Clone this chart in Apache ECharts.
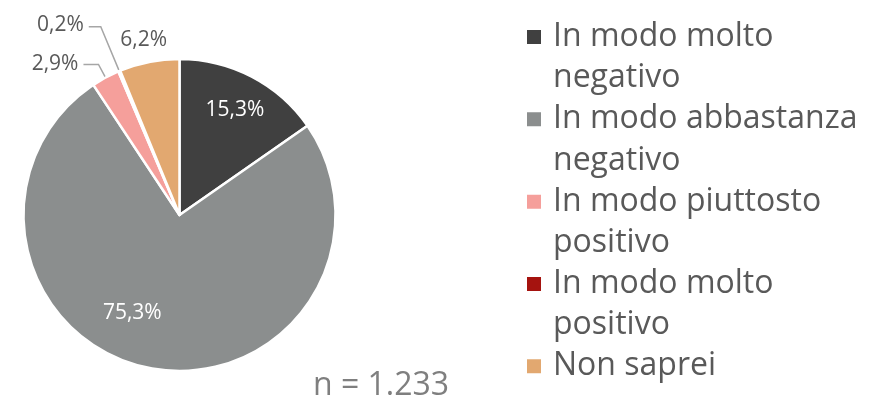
<!DOCTYPE html>
<html>
<head>
<meta charset="utf-8">
<script src="https://cdn.jsdelivr.net/npm/echarts@6/dist/echarts.min.js"></script>
<style>
  html, body { margin: 0; padding: 0; background: #fff; }
  #chart { width: 879px; height: 400px; }
</style>
</head>
<body>
<div id="chart"></div>
<script>
// categories + values (percent)
var categories = ['In modo molto negativo', 'In modo abbastanza negativo', 'In modo piuttosto positivo', 'In modo molto positivo', 'Non saprei'];
// first line empty so the real first line sits next to the legend square
var legendLabels = ['\nIn modo molto\nnegativo', '\nIn modo abbastanza\nnegativo', '\nIn modo piuttosto\npositivo', '\nIn modo molto\npositivo', '\nNon saprei\n'];
var values = [15.3, 75.3, 2.9, 0.2, 6.2];
var colors = ['#404040', '#8b8e8e', '#f59f9b', '#a5130f', '#e2a870'];
var sampleSize = 'n = 1.233';

// label nudges (excel style placement)
var labelShift = [[18, -33], [-32, 18], [0, 0], [0, -2], [26, -6]];
var lineLen = [12, 12, 15, 48, 16];
var lineLen2 = [14, 14, 15, 12, 0];

var chart = echarts.init(document.getElementById('chart'));

var pieData = categories.map(function (c, i) {
  var d = {
    name: c,
    value: values[i],
    itemStyle: { color: colors[i] },
    labelLine: { length: lineLen[i], length2: lineLen2[i] }
  };
  if (i < 2) {
    d.label = { position: 'inside', color: '#fff' };
  }
  if (i === 4) {
    d.labelLine.show = false;
  }
  return d;
});

chart.setOption({
  animation: false,
  title: {
    text: sampleSize,
    left: 313,
    top: 370,
    padding: 0,
    textStyle: { fontFamily: 'Open Sans', fontSize: 32, fontWeight: 'normal', color: '#7f7f7f' }
  },
  legend: {
    orient: 'vertical',
    left: 525,
    top: -24.6,
    height: 480,
    padding: 0,
    itemGap: -41,
    itemWidth: 16,
    itemHeight: 16,
    icon: 'rect',
    selectedMode: false,
    data: categories,
    formatter: function (name) {
      return legendLabels[categories.indexOf(name)];
    },
    textStyle: {
      fontFamily: 'Open Sans',
      fontSize: 32,
      lineHeight: 41.1,
      color: '#595959',
      padding: [0, 0, 0, 6]
    }
  },
  series: [{
    type: 'pie',
    center: [179.5, 215],
    radius: 156,
    startAngle: 90,
    clockwise: true,
    avoidLabelOverlap: false,
    itemStyle: { borderColor: '#fff', borderWidth: 2.5 },
    label: {
      show: true,
      position: 'outside',
      overflow: 'none',
      fontFamily: 'Open Sans',
      fontSize: 21,
      color: '#595959',
      formatter: function (p) {
        return p.value.toFixed(1).replace('.', ',') + '%';
      }
    },
    labelLine: {
      show: true,
      lineStyle: { color: '#a6a6a6', width: 1.5 }
    },
    labelLayout: function (p) {
      var s = labelShift[p.dataIndex];
      return { dx: s[0], dy: s[1] };
    },
    emphasis: { disabled: true },
    data: pieData
  }]
});
</script>
</body>
</html>
